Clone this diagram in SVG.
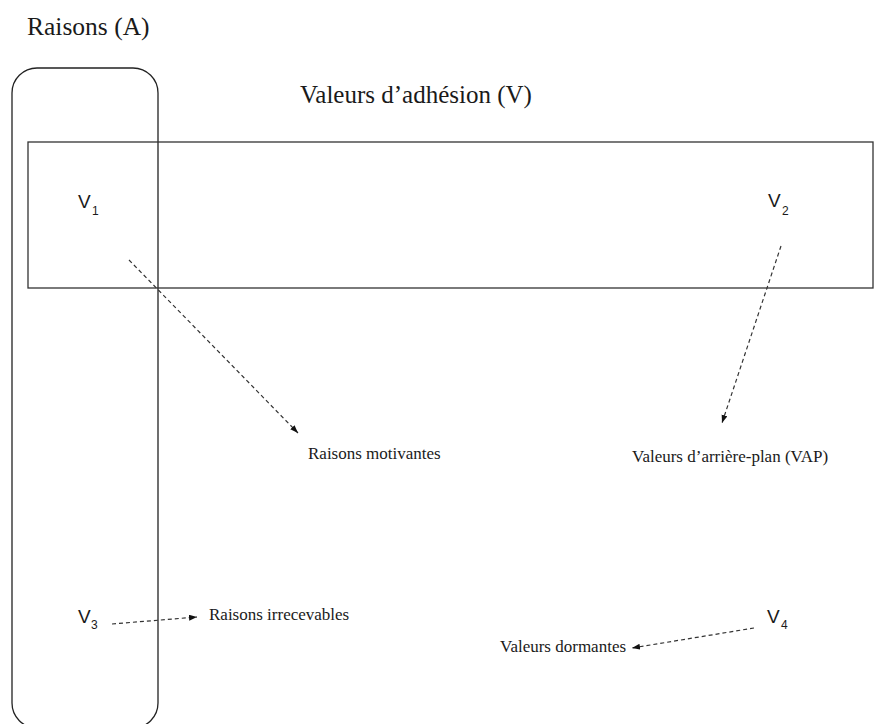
<svg xmlns="http://www.w3.org/2000/svg" width="875" height="724" viewBox="0 0 875 724">
<defs>
<style>
.serif{font-family:"Liberation Serif","Times New Roman",serif;fill:#1a1a1a}
.sans{font-family:"Liberation Sans",Arial,sans-serif;fill:#1a1a1a}
.box{fill:none;stroke:#222;stroke-width:1.3}
.con{fill:none;stroke:#333;stroke-width:1.2;stroke-dasharray:4 3;marker-end:url(#ah)}
</style>
<marker id="ah" markerUnits="userSpaceOnUse" markerWidth="9" markerHeight="7" refX="8" refY="3" orient="auto">
<path d="M0,0 L8,3 L0,6 z" fill="#111"/>
</marker>
</defs>
<rect width="875" height="724" fill="#fff"/>
<g id="raisons">
<rect class="box" x="12" y="68" width="146" height="660" rx="25" ry="25"/>
<text class="serif" x="27" y="35" font-size="25.5">Raisons (A)</text>
</g>
<g id="valeurs-adhesion">
<rect class="box" x="28" y="142" width="845" height="146" style="stroke:#333"/>
<text class="serif" x="300" y="103" font-size="25">Valeurs d’adhésion (V)</text>
</g>
<g id="v1"><text class="sans" x="78" y="208" font-size="19">V<tspan x="92" y="215" font-size="12">1</tspan></text></g>
<g id="v2"><text class="sans" x="768" y="207" font-size="19">V<tspan x="782" y="215" font-size="12">2</tspan></text></g>
<g id="v3"><text class="sans" x="78" y="623" font-size="19">V<tspan x="91" y="629" font-size="12">3</tspan></text></g>
<g id="v4"><text class="sans" x="767" y="623" font-size="19">V<tspan x="781" y="629" font-size="12">4</tspan></text></g>
<g id="raisons-motivantes"><text class="serif" x="308" y="459" font-size="17">Raisons motivantes</text></g>
<g id="valeurs-arriere-plan"><text class="serif" x="632" y="462" font-size="17">Valeurs d’arrière-plan (VAP)</text></g>
<g id="raisons-irrecevables"><text class="serif" x="209" y="620" font-size="17">Raisons irrecevables</text></g>
<g id="valeurs-dormantes"><text class="serif" x="500" y="652" font-size="17">Valeurs dormantes</text></g>
<g id="connectors">
<line class="con" x1="129" y1="260" x2="298" y2="433"/>
<line class="con" x1="781" y1="246" x2="722" y2="423"/>
<line class="con" x1="112" y1="624" x2="197" y2="617"/>
<line class="con" x1="754" y1="628" x2="632" y2="648"/>
</g>
</svg>
